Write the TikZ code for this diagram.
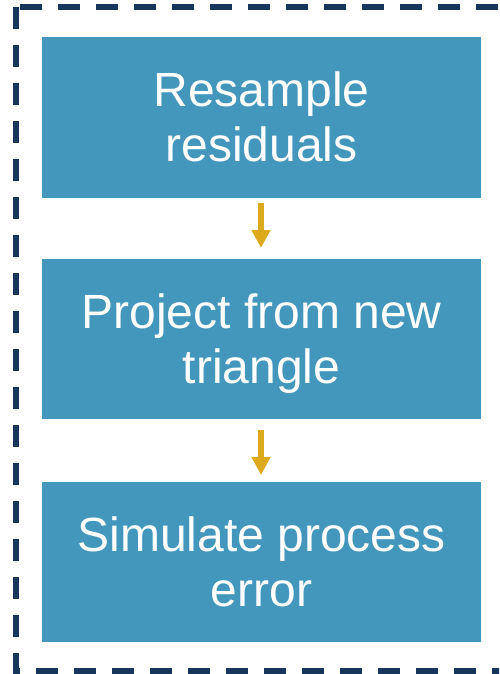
\documentclass[tikz,border=0pt]{standalone}
\usepackage{fontspec}
\setmainfont{Liberation Sans}
\usetikzlibrary{arrows.meta}
\definecolor{boxblue}{HTML}{4397BC}
\definecolor{navy}{HTML}{17365D}
\definecolor{gold}{HTML}{DDAA1E}
\newcommand{\twolines}[2]{\begin{tabular}[t]{@{}c@{}}#1\\#2\end{tabular}}
\tikzset{
  stepbox/.style={fill=boxblue, draw=none, minimum width=439pt, minimum height=160pt, inner sep=0pt,
    text=white, font=\fontsize{48}{55}\selectfont, text height=44pt, text depth=66pt},
  flowarrow/.style={draw=gold, line width=6pt, -{Triangle[length=18pt,width=18pt]}},
  frame/.style={draw=navy, line width=6pt, dash pattern=on 22pt off 16pt}
}
\begin{document}
\begin{tikzpicture}[x=1pt,y=-1pt]
\useasboundingbox (0,0) rectangle (499,674);
\begin{scope}
\clip (0,0) rectangle (499,674);
\draw[frame] (16,7) rectangle (505,671);
\end{scope}
\node[stepbox] (a) at (261.5,117.5) {\twolines{Resample}{residuals}};
\node[stepbox] (b) at (261.5,339) {\twolines{Project from new}{triangle}};
\node[stepbox] (c) at (261.5,562) {\twolines{Simulate process}{error}};
\coordinate (a1) at (261,203);
\coordinate (a2) at (261,248);
\coordinate (b1) at (261,430);
\coordinate (b2) at (261,475);
\draw[flowarrow] (a1) -- (a2);
\draw[flowarrow] (b1) -- (b2);
\end{tikzpicture}
\end{document}
